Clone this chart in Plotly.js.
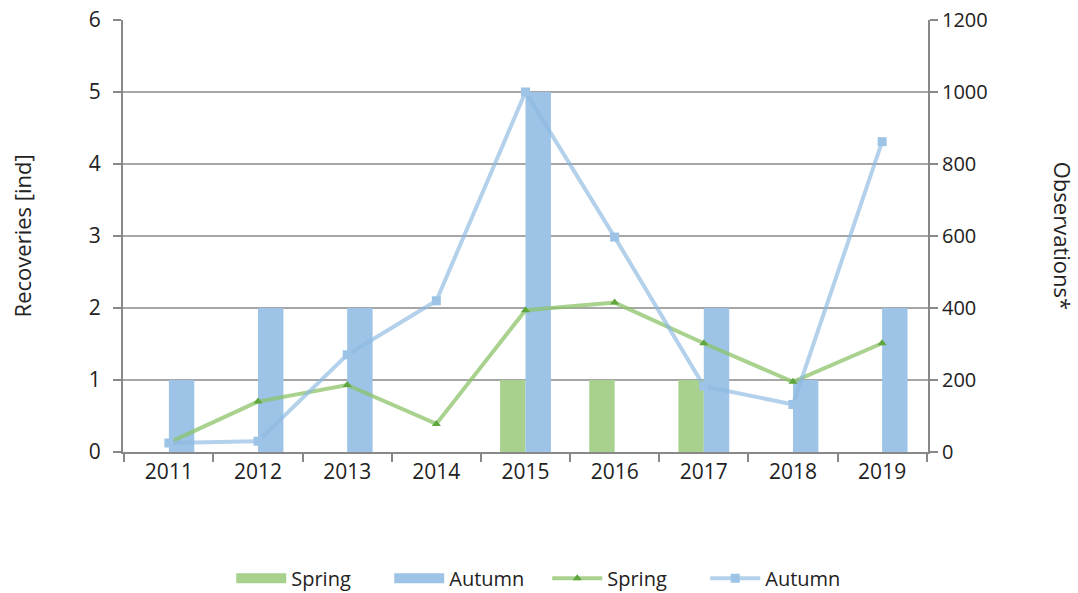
<!DOCTYPE html>
<html>
<head>
<meta charset="utf-8">
<script src="https://cdn.plot.ly/plotly-3.0.1.min.js"></script>
<style>body{margin:0;padding:0;background:#fff}#chart{width:1078px;height:593px}</style>
</head>
<body>
<div id="chart"></div>
<script>
const years = ["2011","2012","2013","2014","2015","2016","2017","2018","2019"];
const springRecoveries = [0,0,0,0,1,1,1,0,0];
const autumnRecoveries = [1,2,2,0,5,0,2,1,2];
const springObservations = [26,140,186,78,394,415,302,195,302];
const autumnObservations = [25,30,270,420,1000,597,183,132,862];
const leftTicks = [0,1,2,3,4,5,6];
const rightTicks = [0,200,400,600,800,1000,1200];

const font = "'Open Sans', 'Noto Sans', sans-serif";
const springBar = "#A9D18E", autumnBar = "#9DC3E6";

const traces = [
  {type:"bar", name:"Spring", x:years, y:springRecoveries, marker:{color:springBar}, yaxis:"y", showlegend:false},
  {type:"bar", name:"Autumn", x:years, y:autumnRecoveries, marker:{color:autumnBar}, yaxis:"y", showlegend:false},
  // legend-only entries drawn as wide swatches, like the reference's bar keys
  {type:"scatter", mode:"lines", name:"Spring", x:[null], y:[null], yaxis:"y", line:{color:springBar, width:14}, legendrank:1, hoverinfo:"skip"},
  {type:"scatter", mode:"lines", name:"Autumn", x:[null], y:[null], yaxis:"y", line:{color:autumnBar, width:14}, legendrank:2, hoverinfo:"skip"},
  {type:"scatter", mode:"lines+markers", name:"Spring", x:years, y:springObservations, yaxis:"y2", legendrank:3,
   line:{color:"rgba(140,195,105,0.75)", width:4}, marker:{symbol:"triangle-up", size:8, color:"#5FA63E"}},
  {type:"scatter", mode:"lines+markers", name:"Autumn", x:years, y:autumnObservations, yaxis:"y2", legendrank:4,
   line:{color:"rgba(140,185,225,0.65)", width:4}, marker:{symbol:"square", size:9, color:"#9DC3E6"}}
];

const layout = {
  width:1078, height:593,
  margin:{l:123, r:150, t:20, b:141, autoexpand:false},
  paper_bgcolor:"#fff", plot_bgcolor:"#fff",
  font:{family:font, size:20, color:"#222"},
  barmode:"group", bargap:0.43, bargroupgap:0,
  showlegend:true,
  legend:{orientation:"h", x:0.527, xanchor:"center", xref:"paper", y:-0.292, yanchor:"middle",
    font:{size:20, color:"#222"}, itemwidth:50, entrywidth:93, entrywidthmode:"pixels", traceorder:"normal"},
  xaxis:{type:"category", categoryarray:years, categoryorder:"array", showgrid:false, showline:true, linecolor:"#888", linewidth:2,
    ticks:"outside", tickson:"boundaries", ticklen:8, tickcolor:"#888", tickwidth:2,
    tickfont:{size:21, color:"#222"}},
  yaxis:{range:[0,6], tickvals:leftTicks, showgrid:true, gridcolor:"#a6a6a6", gridwidth:2,
    showline:true, linecolor:"#888", linewidth:2, ticks:"outside", ticklen:8, tickcolor:"#888", tickwidth:2,
    zeroline:false, tickfont:{size:21, color:"#222"}, ticklabelstandoff:8},
  yaxis2:{range:[0,1200], tickvals:rightTicks, overlaying:"y", side:"right", showgrid:false,
    showline:true, linecolor:"#888", linewidth:2, ticks:"outside", ticklen:8, tickcolor:"#888", tickwidth:2,
    zeroline:false, tickfont:{size:20, color:"#222"}},
  annotations:[
    {text:"Recoveries [ind]", xref:"paper", yref:"paper", x:-0.125, y:0.5, textangle:-90,
      showarrow:false, font:{size:22, color:"#222"}, xanchor:"center", yanchor:"middle"},
    {text:"Observations*", xref:"paper", yref:"paper", x:1.168, y:0.5, textangle:90,
      showarrow:false, font:{size:22, color:"#222"}, xanchor:"center", yanchor:"middle"}
  ]
};

Plotly.newPlot("chart", traces, layout, {displayModeBar:false, staticPlot:true});
</script>
</body>
</html>
